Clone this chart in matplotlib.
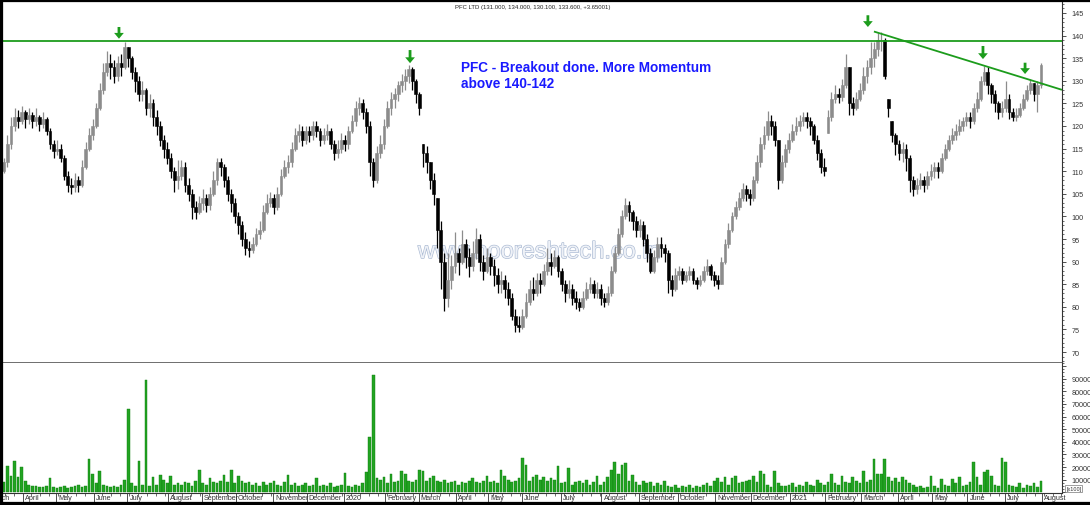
import numpy as np
import matplotlib
matplotlib.use('Agg')
import matplotlib.pyplot as plt
from matplotlib.ticker import MultipleLocator, FixedLocator, FuncFormatter
import matplotlib.patheffects as pe

plt.rcParams['font.family'] = ['Liberation Sans', 'DejaVu Sans']

# each bar = 2 trading days, Mar 2019 .. Aug 2021
close = [112, 116, 120, 122, 121, 123, 121.5, 122.5, 121, 122,
         120.5, 121.5, 119, 116, 114.5, 115, 113, 109, 107, 106.5,
         108, 107, 111, 115, 118, 120, 124, 128, 132, 134,
         133, 131, 134, 133, 137.5, 135, 132, 130, 127, 128,
         124, 125, 122, 120, 117, 115, 113, 110, 108, 109,
         111, 107, 105, 102, 101, 103, 104, 102.5, 105, 108,
         112, 111, 108, 105, 103, 100, 98, 95, 93, 92.5,
         94, 96, 97, 101, 103, 104, 102, 105, 109, 111,
         112, 115, 118, 119, 117, 119, 118, 120, 119, 117,
         118, 119, 116, 114, 115, 117, 116, 119, 121, 124,
         125, 123, 120, 112, 108, 114, 116, 120, 124, 126,
         127, 129, 130, 131, 132.5, 130, 127, 124, 114, 112,
         108, 105, 97, 90, 82, 86, 89, 92, 90, 94,
         91, 89, 92, 95, 90, 88, 91, 89, 87, 85,
         86, 84, 82, 78, 76, 75.5, 78, 81, 84, 83,
         86, 85, 88, 90, 89, 91, 88, 85, 83, 84,
         82, 81, 80, 82, 84, 85, 83, 84, 82, 81,
         83, 88, 92, 96, 100, 102.5, 101, 99, 97, 98,
         95, 92, 88, 91, 94, 93, 92, 86, 84, 87,
         88, 86, 87, 88, 86, 85, 86, 88, 89, 87,
         86, 85, 90, 94, 97, 100, 102, 104, 106, 105,
         104, 108, 112, 116, 118, 121, 120, 117, 108, 112,
         115, 117, 119, 120, 121, 122, 121, 120, 117, 114,
         111, 110, 122, 126, 127, 126.5, 129, 133, 125, 124,
         126, 128, 131, 133, 135, 137, 139, 139, 131, 124,
         118, 116, 114, 115, 113, 108, 106, 107, 108, 107,
         109, 110, 111, 110, 113, 115, 117, 118, 119, 120,
         121, 122, 121, 124, 126, 130, 132, 129, 127, 125,
         123, 124, 126, 123, 122, 122.5, 124, 126, 128, 129.5,
         127, 129, 133.6]

high = [113, 118, 122, 124, 123.5, 124.5, 123.5, 124, 123, 124,
        122.5, 123, 122, 119.5, 117, 117, 116, 113.5, 110, 108.5,
        109.5, 109, 112.5, 116.5, 119.5, 121.5, 125, 129.5, 134, 136.5,
        136, 134.5, 135.5, 136, 138.6, 137.5, 135.5, 133, 131, 130,
        128.5, 127, 126, 123.5, 121, 118, 116.5, 114, 111, 112.5,
        112.5, 112, 108.5, 106, 103.5, 104.5, 106, 105, 106.5, 110,
        113, 113, 111.5, 109, 106, 104, 101, 99, 96.5, 94.5,
        95.5, 97.5, 99, 102.5, 105, 105.5, 105, 106.5, 110.5, 112.5,
        113.5, 116.5, 119.5, 120.5, 120, 120, 120, 121, 121, 119.5,
        119.5, 120.5, 119.5, 117, 117, 118.5, 118, 120, 122.5, 125.5,
        126.5, 126, 124, 121, 113, 115.5, 118, 121.5, 125.5, 127.5,
        128.5, 130, 131.5, 132.5, 133.5, 133, 130.5, 127.5, 116, 115.5,
        112, 109.5, 104, 99, 92, 92, 91.5, 96.5, 93, 97,
        95, 93, 94.5, 97.5, 96, 91.5, 93, 92, 90.5, 88.5,
        88, 87, 85.5, 83, 79.5, 78, 79.5, 83, 86, 86.5,
        87.5, 87.5, 89.5, 93, 92, 92.5, 91.5, 88.5, 86, 86,
        85, 83.5, 82, 83.5, 85.5, 86.5, 86, 85.5, 85, 83,
        84.5, 89, 93.5, 97.5, 101.5, 104, 103.5, 101.5, 100, 99.5,
        99, 96, 93, 92.5, 95.5, 95.5, 94, 92.5, 87, 88.5,
        89, 88.5, 88, 89, 88.5, 86.5, 87, 89, 90.5, 89.5,
        88, 87, 91, 95, 98.5, 101, 103.5, 105.5, 107.5, 107,
        106, 109, 113.5, 117.5, 120, 123.3, 122.5, 121, 117, 113.5,
        116, 118.5, 120.5, 122, 122.5, 123, 123, 122, 120.5, 118,
        115, 113, 123.5, 127.5, 129, 128.5, 130.5, 136, 133, 126.5,
        127.5, 129.5, 133, 134.5, 138.5, 138.5, 140.5, 140.8, 139.5, 126,
        121, 118.5, 117, 116.5, 116, 113.5, 109, 108.5, 109.5, 109,
        110, 111.5, 112, 112, 114, 116, 118, 119.5, 120.5, 121.5,
        122, 123, 123, 125, 127.5, 131, 133.2, 133, 129.5, 128,
        125.5, 125.5, 130, 127, 124, 124, 125, 127, 129, 130.3,
        129.5, 130, 134]

low = [109.5, 111, 115, 119, 119.5, 120.5, 119.5, 120.5, 119.5, 120,
       119, 119.5, 118, 115, 113, 113.5, 112, 108, 105.5, 105,
       105.5, 105.5, 106.5, 110.5, 114.5, 117, 119.5, 123.5, 127, 131,
       130.5, 129.5, 130, 131, 132.5, 133, 130.5, 127.5, 125.5, 125.5,
       122.5, 122, 120, 118, 115.5, 113, 111.5, 108.5, 105.5, 106,
       108, 105.5, 103.5, 99.5, 99.5, 100.5, 101.5, 101, 101.5, 104.5,
       107, 109, 106.5, 103.5, 101, 98.5, 96, 93.5, 91.5, 91,
       92, 93.5, 95, 96.5, 100.5, 102, 100.5, 101.5, 104.5, 108.5,
       109.5, 111, 114.5, 116.5, 115.5, 116, 116.5, 117, 117.5, 115.5,
       116, 117, 115, 112.5, 113, 114, 114.5, 115, 118.5, 120,
       122.5, 121.5, 118.5, 109, 106.5, 107.5, 113, 115, 119.5, 122.5,
       124, 125.5, 127.5, 128, 129.5, 128, 125, 122.5, 111, 109.5,
       106, 102.5, 93, 84, 79, 80, 84, 87.5, 87, 89.5,
       88.5, 86.5, 88, 90.5, 88, 86, 87.5, 87, 84.5, 83,
       83, 82, 80.5, 77, 74.5, 74.5, 75, 77.5, 80.5, 81.5,
       82.5, 83, 84.5, 87, 87, 88.5, 86.5, 83.5, 81, 82,
       80.5, 79.5, 79, 79.5, 81.5, 83, 82, 82, 80.5, 80,
       80.5, 82.5, 87.5, 91.5, 95.5, 99.5, 99, 97, 95.5, 95.5,
       93.5, 90, 87.5, 87.5, 90, 91, 90, 83, 82.5, 83.5,
       86, 85, 85.5, 86, 85, 84, 84.5, 85.5, 87, 86,
       84.5, 84, 85, 89.5, 93, 96.5, 99.5, 101.5, 103.5, 103.5,
       102.5, 103.5, 107.5, 111, 115, 117, 118, 115.5, 106, 107.5,
       111, 114, 116.5, 118, 119, 120, 119.5, 118, 116, 112.5,
       109.5, 109, 118.5, 121, 125, 125, 125.5, 128.5, 122.5, 122.5,
       123.5, 125.5, 127, 129.5, 131.5, 133, 135.5, 136.5, 130.5, 122,
       116.5, 113.5, 112.5, 112, 110, 105.5, 104.5, 105, 106, 105.5,
       106, 108, 108.5, 108.5, 109.5, 112.5, 114.5, 116, 117, 118,
       119, 120, 119.5, 120.5, 123, 125.5, 129, 127, 125, 123,
       121.5, 122, 123, 121.5, 121, 121, 122, 123.5, 125.5, 127,
       125.5, 123, 128.5]

# volume in thousands
volume = [8, 21, 13, 25, 12, 20, 9, 6, 5, 5,
          4, 4, 5, 11, 4, 3.5, 4, 5, 3.5, 4,
          5, 6, 4, 5, 26, 14.5, 7, 17, 6, 5,
          4, 5, 4, 6, 10, 66, 7, 5, 25, 6,
          89, 5, 12, 6, 14, 10, 7, 12.6, 6, 7,
          6, 8, 7, 5, 9, 18, 7, 6, 11, 8,
          7, 9, 14, 8, 17.6, 7, 12.6, 9, 7, 8,
          6, 7, 5, 8, 6, 7, 9, 6, 5, 8,
          14, 6, 7, 5, 6, 7, 5, 6, 11, 5,
          6, 5, 7, 4, 5, 6, 15, 5, 4, 6,
          5, 7, 16, 44, 93, 11, 10, 12, 7, 14.5,
          8, 9, 17, 14.5, 9, 8, 10, 18, 16.5, 9,
          11, 12.6, 9, 8, 10, 7, 8, 9, 6, 8,
          7, 9, 11, 8, 7, 9, 13, 8, 9, 7,
          18, 13, 10, 8, 9, 11, 27, 22, 9, 12,
          14, 10, 12, 9, 11, 10, 21, 7, 8, 19,
          6, 8, 9, 7, 10, 6, 8, 13, 6, 8,
          12, 18, 24, 14.5, 22, 23, 9, 14, 8, 6,
          9, 7, 8, 5, 7, 6, 9, 5, 4, 6,
          3.5, 5, 4, 6, 3, 5, 4, 6, 7, 5,
          9, 11, 8, 12, 6, 11, 13, 7, 8, 9,
          10, 12.6, 8, 17, 14.5, 6, 4, 17, 7, 5,
          5, 6, 7, 4, 6, 5, 8, 6, 5, 10,
          7, 6, 8, 14.5, 7, 6, 13, 8, 7, 12,
          9, 7, 17, 8, 10, 26, 14.5, 14.5, 26, 12,
          9, 11, 8, 12, 10, 7, 6, 4, 5, 3.5,
          4, 12.6, 5, 3, 10.5, 6, 5, 10.5, 7, 12,
          5, 6, 8, 24, 12, 6, 16, 18, 12.6, 6,
          5, 27, 23.7, 6, 5, 4, 7, 3.5, 6, 5,
          7, 4, 9]

first_open = 110

month_labels = ['March', 'April', 'May', 'June', 'July', 'August', 'September',
                'October', 'November', 'December', '2020', 'February', 'March',
                'April', 'May', 'June', 'July', 'August', 'September', 'October',
                'November', 'December', '2021', 'February', 'March', 'April',
                'May', 'June', 'July', 'August']
# trading days in each month (Mar 2019 .. Jul 2021)
month_days = [20, 19, 21, 19, 23, 19, 19, 21, 19, 21, 23, 19, 21, 18, 19,
              22, 23, 21, 22, 21, 20, 22, 20, 20, 21, 19, 20, 21, 21]
march_start = -9

resistance = 138.9
title = 'PFC LTD (131.000, 134.000, 130.100, 133.600, +3.65001)'
note = 'PFC - Breakout done. More Momentum\nabove 140-142'

W, H = 1090, 506
fig = plt.figure(figsize=(W / 100, H / 100), dpi=100)


def box(l, t, r, b):
    return [l / W, 1 - b / H, (r - l) / W, (b - t) / H]


ax = fig.add_axes(box(3, 3, 1062, 364))
axv = fig.add_axes(box(3, 364, 1062, 494), sharex=ax)

close = np.array(close, dtype=float)
high = np.array(high, dtype=float)
low = np.array(low, dtype=float)
vol = np.array(volume, dtype=float) * 1000
x = np.arange(len(close)) * 2 + 0.5
opens = np.clip(np.r_[first_open, close[:-1]], low, high)
up = close >= opens
cols = np.where(up, '#8c8c8c', '#000000')

ax.vlines(x, low, high, colors=cols, lw=0.9, zorder=3)
ax.bar(x, np.abs(close - opens), bottom=np.minimum(opens, close), width=1.6,
       color=cols, edgecolor=cols, lw=0.4, zorder=3)

axv.bar(x, vol, width=1.5, color='#22a322', edgecolor='#0e7d0e', lw=0.3)

green = '#1c9c1c'
ax.axhline(resistance, color=green, lw=1.3, zorder=4)
ax.plot([490.4, 596.3], [140.9, 128.0], color=green, lw=1.3, zorder=4,
        solid_capstyle='butt')

for ax_x, y0, y1 in [(65.3, 141.9, 139.3), (229.2, 136.8, 133.9),
                     (487.0, 144.5, 141.9), (551.8, 137.7, 134.8),
                     (575.5, 134.0, 131.5)]:
    ax.annotate('', xy=(ax_x, y1), xytext=(ax_x, y0),
                arrowprops=dict(facecolor=green, edgecolor='none', width=2.0,
                                headwidth=7, headlength=4.2, shrink=0), zorder=5)

ax.text(258, 134.6, note, color='#1a1aff', fontsize=9.8, fontweight='bold',
        ha='left', va='top', linespacing=1.15, zorder=6)

ax.text(302, 92.1, 'www.nooreshtech.co.in', color='#eef1f7', fontsize=17,
        ha='center', va='center', zorder=1,
        path_effects=[pe.withStroke(linewidth=0.9, foreground='#a9b9d2')])

fig.text(533 / W, 1 - 7 / H, title, fontsize=4.3, ha='center', va='center',
         color='#222')

ax.set_xlim(0, 596.3)
ax.set_ylim(67.57, 147.43)
axv.set_ylim(-600, 102500)

for a in (ax, axv):
    a.spines['left'].set_visible(False)
    a.spines['top'].set_visible(False)
    a.spines['right'].set_color('#333333')
    a.spines['right'].set_linewidth(0.8)
    a.yaxis.tick_right()
    a.tick_params(axis='y', which='major', length=3, width=0.6, pad=4,
                  labelsize=5.2, colors='#333333')
    a.tick_params(axis='y', which='minor', length=1.6, width=0.5,
                  colors='#333333')
ax.spines['bottom'].set_color('#555555')
ax.spines['bottom'].set_linewidth(1.2)
axv.spines['bottom'].set_color('#333333')
axv.spines['bottom'].set_linewidth(0.8)

ax.yaxis.set_major_locator(MultipleLocator(5))
ax.yaxis.set_minor_locator(MultipleLocator(1))
ax.tick_params(axis='x', which='both', bottom=False, labelbottom=False)

axv.yaxis.set_major_locator(MultipleLocator(10000))
axv.yaxis.set_minor_locator(MultipleLocator(2500))
axv.yaxis.set_major_formatter(
    FuncFormatter(lambda v, p: '%d' % v if 0 < v < 100000 else ''))

ticks = march_start + np.r_[0, np.cumsum(month_days)]
axv.xaxis.set_major_locator(FixedLocator(ticks))
axv.xaxis.set_minor_locator(MultipleLocator(5, offset=1))
axv.tick_params(axis='x', which='major', length=7.5, width=0.6,
                colors='#333333', labelbottom=False)
axv.tick_params(axis='x', which='minor', length=2, width=0.5, colors='#333333')
for t, lab in zip(ticks, month_labels):
    axv.text(t + 1.2, -0.035, lab, transform=axv.get_xaxis_transform(),
             fontsize=5.2, ha='left', va='center', color='#333333',
             clip_on=False)

axv.text(1.004, 0.035, '[x100]', transform=axv.transAxes, fontsize=4,
         ha='left', va='center', color='#333333',
         bbox=dict(boxstyle='square,pad=0.15', fc='white', ec='#777777',
                   lw=0.5))

# screenshot frame
for seg in ([0, 0], [0, 1]), ([0, 1], [1, 1]), ([0, 1], [0, 0]):
    fig.add_artist(plt.Line2D(seg[0], seg[1], transform=fig.transFigure,
                              color='black', lw=4.5))

fig.savefig('out.png', dpi=100, facecolor='white')
